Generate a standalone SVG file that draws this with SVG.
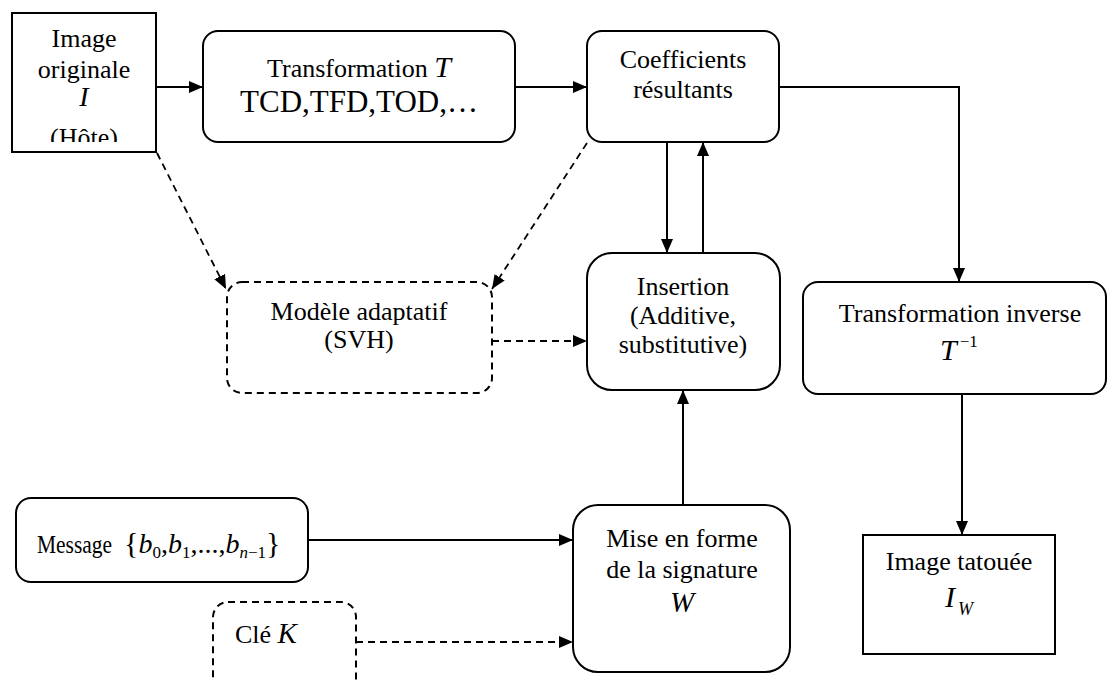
<svg xmlns="http://www.w3.org/2000/svg" width="1108" height="681" viewBox="0 0 1108 681">
  <style>
    svg { font-family: "Liberation Serif", "Times New Roman", serif; font-size: 26px; }
    .box { fill: #ffffff; stroke: #000000; stroke-width: 2; }
    .dbox { fill: #ffffff; stroke: #000000; stroke-width: 2; stroke-dasharray: 7 5; }
    .line { fill: none; stroke: #000000; stroke-width: 2; }
    .dline { fill: none; stroke: #000000; stroke-width: 1.8; stroke-dasharray: 7 5; }
    text { fill: #000000; }
    .c { text-anchor: middle; }
    .it { font-style: italic; }
  </style>
  <defs>
    <marker id="arrow" viewBox="0 0 14 12" refX="14" refY="6" markerWidth="14" markerHeight="12" markerUnits="userSpaceOnUse" orient="auto">
      <path d="M0,0 L14,6 L0,12 z" fill="#000000"/>
    </marker>
    <clipPath id="hostClip">
      <rect x="12" y="13" width="144" height="129"/>
    </clipPath>
  </defs>

  <rect width="1108" height="681" fill="#ffffff"/>

  <!-- connectors -->
  <g id="connectors">
    <path class="line" d="M156,87 H203" marker-end="url(#arrow)"/>
    <path class="line" d="M515,87 H587" marker-end="url(#arrow)"/>
    <path class="line" d="M779,87 H959 V282" marker-end="url(#arrow)"/>
    <path class="line" d="M667,142 V253" marker-end="url(#arrow)"/>
    <path class="line" d="M703,253 V142" marker-end="url(#arrow)"/>
    <path class="line" d="M962,394 V535" marker-end="url(#arrow)"/>
    <path class="line" d="M683,505 V390" marker-end="url(#arrow)"/>
    <path class="line" d="M308,540 H573" marker-end="url(#arrow)"/>
    <path class="dline" d="M356,642 H573" marker-end="url(#arrow)"/>
    <path class="dline" d="M492,341 H587" marker-end="url(#arrow)"/>
    <path class="dline" d="M157,153 L226,289" marker-end="url(#arrow)"/>
    <path class="dline" d="M587,143 L492,289" marker-end="url(#arrow)"/>
  </g>

  <!-- host image -->
  <g id="image-originale">
    <rect class="box" x="12" y="13" width="144" height="139"/>
    <g clip-path="url(#hostClip)">
      <text class="c" x="84" y="47">Image</text>
      <text class="c" x="84" y="78">originale</text>
      <text class="c it" x="84" y="106" font-size="28">I</text>
      <text class="c" x="84" y="146">(Hôte)</text>
    </g>
  </g>

  <!-- forward transform -->
  <g id="transformation">
    <rect class="box" x="203" y="31" width="312" height="111" rx="15"/>
    <text class="c" x="359" y="77">Transformation <tspan class="it" font-size="30">T</tspan></text>
    <text class="c" x="359" y="112" font-size="31">TCD,TFD,TOD,…</text>
  </g>

  <!-- coefficients -->
  <g id="coefficients">
    <rect class="box" x="587" y="31" width="192" height="111" rx="15"/>
    <text class="c" x="683" y="68">Coefficients</text>
    <text class="c" x="683" y="98">résultants</text>
  </g>

  <!-- perceptual model -->
  <g id="modele-adaptatif">
    <rect class="dbox" x="227" y="282" width="265" height="111" rx="15"/>
    <text class="c" x="359" y="320">Modèle adaptatif</text>
    <text class="c" x="359" y="348">(SVH)</text>
  </g>

  <!-- embedding -->
  <g id="insertion">
    <rect class="box" x="587" y="253" width="193" height="137" rx="25"/>
    <text class="c" x="683" y="295">Insertion</text>
    <text class="c" x="683" y="324">(Additive,</text>
    <text class="c" x="683" y="353">substitutive)</text>
  </g>

  <!-- inverse transform -->
  <g id="transformation-inverse">
    <rect class="box" x="803" y="282" width="303" height="112" rx="15"/>
    <text class="c" x="960" y="322">Transformation inverse</text>
    <text x="940" y="360" class="it" font-size="30">T<tspan font-style="normal" font-size="17" dy="-13" dx="3">−1</tspan></text>
  </g>

  <!-- watermarked output -->
  <g id="image-tatouee">
    <rect class="box" x="863" y="535" width="192" height="119"/>
    <text class="c" x="959" y="570">Image tatouée</text>
    <text x="945" y="607" class="it" font-size="30">I<tspan font-size="18" dy="8" dx="3">W</tspan></text>
  </g>

  <!-- message -->
  <g id="message">
    <rect class="box" x="16" y="498" width="292" height="84" rx="15"/>
    <text x="37" y="553" font-size="25" textLength="75" lengthAdjust="spacingAndGlyphs">Message</text>
    <text x="124" y="553" font-size="28"><tspan font-size="30">{</tspan><tspan class="it">b</tspan><tspan font-size="17" dy="5">0</tspan><tspan dy="-5">,</tspan><tspan class="it">b</tspan><tspan font-size="17" dy="5">1</tspan><tspan dy="-5">,...,</tspan><tspan class="it">b</tspan><tspan class="it" font-size="17" dy="5">n</tspan><tspan font-size="17">−1</tspan><tspan font-size="30" dy="-5">}</tspan></text>
  </g>

  <!-- key -->
  <g id="cle">
    <rect class="dbox" x="213" y="602" width="143" height="98" rx="15"/>
    <text x="235" y="643">Clé <tspan class="it" font-size="29">K</tspan></text>
  </g>

  <!-- signature shaping -->
  <g id="mise-en-forme">
    <rect class="box" x="573" y="505" width="217" height="167" rx="25"/>
    <text class="c" x="682" y="547">Mise en forme</text>
    <text class="c" x="682" y="578">de la signature</text>
    <text class="c it" x="682" y="612" font-size="29">W</text>
  </g>
</svg>
